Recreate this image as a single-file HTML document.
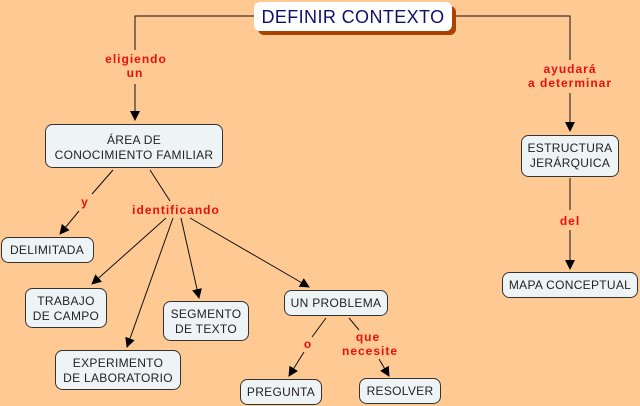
<!DOCTYPE html>
<html><head><meta charset="utf-8"><style>
body{margin:0;background:#FFC993;}
svg{display:block}
text{font-family:"Liberation Sans",sans-serif;}
.n{fill:#EEF3F6;stroke:#333;stroke-width:1}
.t{font-size:12px;fill:#222;text-anchor:middle;letter-spacing:0.3px}
.l{font-size:12px;fill:#E8100C;font-weight:bold;text-anchor:middle;letter-spacing:1px}
.c{stroke:#111;stroke-width:1;fill:none}
</style></head><body>
<svg width="640" height="406" viewBox="0 0 640 406">
<defs><marker id="a" markerWidth="10" markerHeight="10" refX="9" refY="5" orient="auto" markerUnits="userSpaceOnUse"><path d="M0,0 L10,5 L0,10 z" fill="#000"/></marker></defs>
<rect width="640" height="406" fill="#FFC993"/>
<path class="c" d="M254,16 H135 V50"/>
<path class="c" d="M135,84 V120" marker-end="url(#a)"/>
<path class="c" d="M452,16 H570 V60"/>
<path class="c" d="M570,93 V131" marker-end="url(#a)"/>
<path class="c" d="M570,178 V210"/>
<path class="c" d="M570,230 V269" marker-end="url(#a)"/>
<path class="c" d="M113,170 L92,194"/>
<path class="c" d="M79,211 L60,234" marker-end="url(#a)"/>
<path class="c" d="M150,170 L170,201"/>
<path class="c" d="M166,218 L92,284" marker-end="url(#a)"/>
<path class="c" d="M173,218 L127,347" marker-end="url(#a)"/>
<path class="c" d="M181,218 L199,298" marker-end="url(#a)"/>
<path class="c" d="M190,218 L309,287" marker-end="url(#a)"/>
<path class="c" d="M326,318 L312,337"/>
<path class="c" d="M304,352 L289,376" marker-end="url(#a)"/>
<path class="c" d="M349,318 L359,330"/>
<path class="c" d="M379,359 L389,376" marker-end="url(#a)"/>
<rect x="258" y="6" width="198" height="29" rx="6" fill="#A84400"/>
<rect x="254" y="2" width="198" height="29" rx="6" fill="#fff"/>
<text x="353" y="23" font-size="18" fill="#10106A" text-anchor="middle" letter-spacing="0.4">DEFINIR CONTEXTO</text>
<rect class="n" x="45.5" y="124.5" width="177" height="43" rx="7"/>
<text class="t" x="134" y="144">ÁREA DE</text><text class="t" x="134" y="159">CONOCIMIENTO FAMILIAR</text>
<rect class="n" x="521.5" y="135.5" width="97" height="41" rx="7"/>
<text class="t" x="570" y="152">ESTRUCTURA</text><text class="t" x="570" y="167">JERÁRQUICA</text>
<rect class="n" x="502.5" y="272.5" width="135" height="25" rx="7"/>
<text class="t" x="570" y="289">MAPA CONCEPTUAL</text>
<rect class="n" x="1.5" y="237.5" width="92" height="25" rx="7"/>
<text class="t" x="47" y="254">DELIMITADA</text>
<rect class="n" x="25.5" y="288.5" width="81" height="39" rx="7"/>
<text class="t" x="66" y="305">TRABAJO</text><text class="t" x="66" y="320">DE CAMPO</text>
<rect class="n" x="55.5" y="350.5" width="125" height="39" rx="7"/>
<text class="t" x="118" y="367">EXPERIMENTO</text><text class="t" x="118" y="382">DE LABORATORIO</text>
<rect class="n" x="163.5" y="301.5" width="85" height="39" rx="7"/>
<text class="t" x="206" y="318">SEGMENTO</text><text class="t" x="206" y="333">DE TEXTO</text>
<rect class="n" x="284.5" y="290.5" width="103" height="25" rx="7"/>
<text class="t" x="336" y="307">UN PROBLEMA</text>
<rect class="n" x="240.5" y="379.5" width="81" height="25" rx="7"/>
<text class="t" x="281" y="396">PREGUNTA</text>
<rect class="n" x="359.5" y="378.5" width="81" height="25" rx="7"/>
<text class="t" x="400" y="395">RESOLVER</text>
<text class="l" x="136" y="63">eligiendo</text><text class="l" x="135" y="77">un</text>
<text class="l" x="570" y="73">ayudará</text><text class="l" x="570" y="87">a determinar</text>
<text class="l" x="570" y="225">del</text>
<text class="l" x="85" y="206">y</text>
<text class="l" x="176" y="214">identificando</text>
<text class="l" x="308" y="348">o</text>
<text class="l" x="368" y="341">que</text><text class="l" x="370" y="355">necesite</text>
</svg>
</body></html>
